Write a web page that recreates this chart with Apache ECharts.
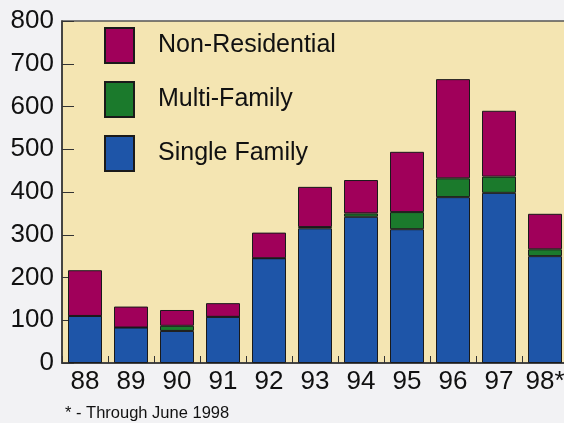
<!DOCTYPE html>
<html>
<head>
<meta charset="utf-8">
<script src="https://cdn.jsdelivr.net/npm/echarts@6/dist/echarts.min.js"></script>
<style>
  html, body { margin: 0; padding: 0; background: #f2f2f4; overflow: hidden; }
  #chart { width: 572px; height: 423px; }
</style>
</head>
<body>
<div id="chart"></div>
<script>
const categories = ['88', '89', '90', '91', '92', '93', '94', '95', '96', '97', '98*'];
const singleFamily = [110, 83, 75, 108, 245, 315, 342, 313, 388, 398, 250];
const multiFamily = [0, 0, 12, 0, 0, 3, 8, 40, 44, 38, 16];
const nonResidential = [107, 49, 37, 32, 60, 94, 78, 141, 232, 154, 83];
const yTicks = { min: 0, max: 800, interval: 100 };
const footnote = '* - Through June 1998';

const FONT = "'Liberation Sans', Arial, sans-serif";
const chart = echarts.init(document.getElementById('chart'));

function barSeries(name, data, color) {
  return {
    name: name,
    type: 'bar',
    stack: 'total',
    data: data,
    barWidth: 34,
    itemStyle: { color: color, borderColor: '#1a1a1a', borderWidth: 1 },
    emphasis: { disabled: true }
  };
}

chart.setOption({
  backgroundColor: '#f2f2f4',
  animation: false,
  textStyle: { fontFamily: FONT },
  grid: {
    left: 62, top: 21, width: 506, bottom: 60,
    show: true, backgroundColor: '#f4e5b2', borderColor: '#555', borderWidth: 1.5
  },
  legend: {
    orient: 'vertical',
    left: 99, top: 22,
    itemWidth: 29, itemHeight: 35, itemGap: 17,
    icon: 'rect',
    data: ['Non-Residential', 'Multi-Family', 'Single Family'],
    textStyle: { fontSize: 25, color: '#111', fontFamily: FONT, padding: [0, 0, 0, 19] }
  },
  xAxis: {
    type: 'category',
    data: categories,
    axisLine: { show: true, lineStyle: { color: '#333', width: 1.5 } },
    axisTick: { show: true, inside: true, length: 7, lineStyle: { color: '#333' } },
    axisLabel: { fontSize: 26, color: '#111', margin: 6, fontFamily: FONT, interval: 0 },
    splitLine: { show: false }
  },
  yAxis: {
    type: 'value',
    min: yTicks.min, max: yTicks.max, interval: yTicks.interval,
    axisLine: { show: true, lineStyle: { color: '#333', width: 1.5 } },
    axisTick: { show: true, inside: true, length: 12, lineStyle: { color: '#333' } },
    axisLabel: { fontSize: 26, color: '#111', margin: 8, fontFamily: FONT },
    splitLine: { show: false }
  },
  graphic: [{
    type: 'text', left: 65, top: 405,
    style: { text: footnote, fontSize: 16.5, fill: '#111', fontFamily: FONT }
  }],
  series: [
    barSeries('Single Family', singleFamily, '#1e55a8'),
    barSeries('Multi-Family', multiFamily, '#1b7a2c'),
    barSeries('Non-Residential', nonResidential, '#a0005a')
  ]
});
</script>
</body>
</html>
